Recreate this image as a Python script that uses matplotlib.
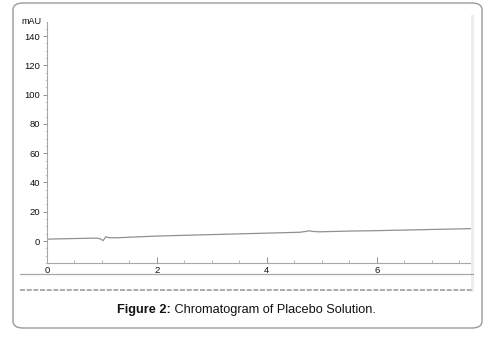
import matplotlib
matplotlib.use("Agg")
import matplotlib.pyplot as plt
from matplotlib.patches import FancyBboxPatch, Rectangle
from matplotlib.lines import Line2D
from matplotlib.ticker import MultipleLocator

# Data
time_min = [0.0, 0.5, 0.9, 0.97, 1.02, 1.07, 1.12, 1.25, 2.0, 3.0, 4.0, 4.6, 4.7, 4.77, 4.85, 4.95, 5.5, 6.0, 7.0, 7.75]
signal_mau = [1.3, 1.7, 2.0, 1.5, 0.3, 2.9, 2.3, 2.2, 3.4, 4.4, 5.4, 6.0, 6.5, 7.0, 6.5, 6.3, 6.8, 7.1, 7.9, 8.5]
x_ticks = [0, 2, 4, 6]
y_ticks = [0, 20, 40, 60, 80, 100, 120, 140]
caption_bold = "Figure 2:"
caption_text = " Chromatogram of Placebo Solution."

W, H = 496, 342
fig = plt.figure(figsize=(W / 100, H / 100), dpi=100)
fig.patch.set_facecolor("white")

def fx(px):
    return px / W

def fy(py):
    return 1 - py / H

# Rounded border
box = FancyBboxPatch((fx(13), fy(328)), fx(482) - fx(13), fy(3) - fy(328),
                     boxstyle="round,pad=0,rounding_size=0.02",
                     transform=fig.transFigure, facecolor="none",
                     edgecolor="#9a9a9a", linewidth=1.0)
fig.patches.append(box)

ax = fig.add_axes([fx(47), fy(263), fx(473) - fx(47), fy(22) - fy(263)])
ax.set_xlim(0, 7.75)
ax.set_ylim(-15, 149.6)
ax.plot(time_min, signal_mau, color="#909090", linewidth=0.9)

for s in ["top", "right"]:
    ax.spines[s].set_visible(False)
for s in ["left", "bottom"]:
    ax.spines[s].set_color("#a8a8a8")
    ax.spines[s].set_linewidth(0.8)

ax.set_xticks(x_ticks)
ax.set_yticks(y_ticks)
ax.xaxis.set_minor_locator(MultipleLocator(0.5))
ax.yaxis.set_minor_locator(MultipleLocator(5))
ax.tick_params(axis="x", which="major", direction="in", length=4, width=0.7,
               color="#909090", labelsize=6.8, pad=2, labelcolor="#111111")
ax.tick_params(axis="x", which="minor", direction="in", length=2, width=0.6,
               color="#a8a8a8")
ax.tick_params(axis="y", which="major", direction="out", length=3, width=0.7,
               color="#909090", labelsize=6.8, pad=2, labelcolor="#111111")
ax.tick_params(axis="y", which="minor", direction="out", length=1.5, width=0.5,
               color="#b8b8b8")
for lbl in ax.get_xticklabels() + ax.get_yticklabels():
    lbl.set_family("Liberation Sans")
ax.text(-0.012, 1.0, "mAU", transform=ax.transAxes, ha="right", va="center",
        fontsize=6.5, family="Liberation Sans", color="#111111")

# Extra scan lines below the axis
fig.lines.append(Line2D([fx(20), fx(473)], [fy(274), fy(274)], transform=fig.transFigure,
                        color="#a8a8a8", linewidth=0.9))
fig.lines.append(Line2D([fx(20), fx(473)], [fy(290), fy(290)], transform=fig.transFigure,
                        color="#a49c9c", linewidth=1.2, linestyle=(0, (3, 1))))
# Right scan edge strip
fig.patches.append(Rectangle((fx(471), fy(292)), fx(2.5), fy(15) - fy(292),
                             transform=fig.transFigure, facecolor="#f1ece9",
                             edgecolor="none"))

# Caption
t1 = fig.text(fx(117), fy(310), caption_bold, fontsize=9.2, fontweight="bold",
              family="Liberation Sans", va="center", ha="left", color="#111111")
fig.canvas.draw()
bb = t1.get_window_extent()
fig.text(bb.x1 / W, fy(310), caption_text, fontsize=9.2,
         family="Liberation Sans", va="center", ha="left", color="#111111")

fig.savefig("out.png", dpi=100)
